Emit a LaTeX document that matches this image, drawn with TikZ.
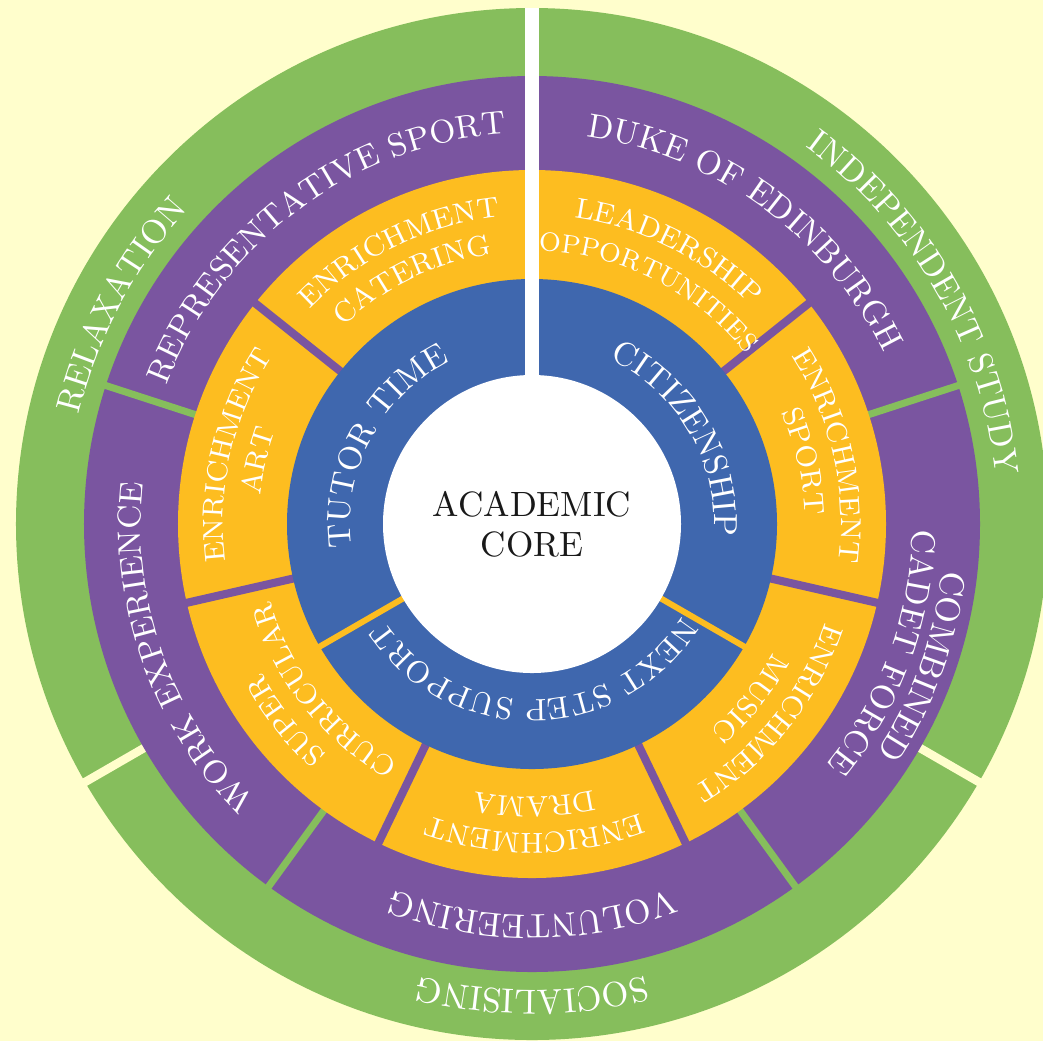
\documentclass[tikz,border=0pt]{standalone}
\usepackage{xcolor}
\usepackage{tikz}
\usetikzlibrary{decorations.text}

\definecolor{bgyellow}{RGB}{255,254,204}
\definecolor{ringgreen}{RGB}{134,190,92}
\definecolor{ringpurple}{RGB}{122,85,160}
\definecolor{ringorange}{RGB}{253,189,32}
\definecolor{ringblue}{RGB}{63,103,174}

\newcommand{\ringlabel}[4]{\path[decorate,decoration={text along path,text align=center,text={|\fontsize{#3}{#3}\selectfont\color{white}|#4}}] (#1+90:#2) arc[start angle=#1+90,end angle=#1-90,radius=#2];}

\begin{document}
\begin{tikzpicture}
    \useasboundingbox[fill=bgyellow] (-5.32,-5.17) rectangle (5.11,5.24);
    \fill[ringgreen] (0,0) circle (5.16);
    \draw[bgyellow,line width=2.4pt] (210:4.4) -- (210:5.3);
    \draw[bgyellow,line width=2.4pt] (330:4.4) -- (330:5.3);
    \fill[ringpurple] (0,0) circle (4.48);
    \draw[ringgreen,line width=2pt] (18:3.5) -- (18:4.5);
    \draw[ringgreen,line width=2pt] (162:3.5) -- (162:4.5);
    \draw[ringgreen,line width=2pt] (234:3.5) -- (234:4.5);
    \draw[ringgreen,line width=2pt] (306:3.5) -- (306:4.5);
    \fill[ringorange] (0,0) circle (3.54);
    \draw[ringpurple,line width=2.3pt] (38.57:2.4) -- (38.57:3.6);
    \draw[ringpurple,line width=2.3pt] (141.43:2.4) -- (141.43:3.6);
    \draw[ringpurple,line width=2.3pt] (192.86:2.4) -- (192.86:3.6);
    \draw[ringpurple,line width=2.3pt] (244.29:2.4) -- (244.29:3.6);
    \draw[ringpurple,line width=2.3pt] (295.71:2.4) -- (295.71:3.6);
    \draw[ringpurple,line width=2.3pt] (347.14:2.4) -- (347.14:3.6);
    \fill[ringblue] (0,0) circle (2.45);
    \draw[ringorange,line width=1.7pt] (210:1.4) -- (210:2.5);
    \draw[ringorange,line width=1.7pt] (330:1.4) -- (330:2.5);
    \fill[white] (0,0) circle (1.49);
    \draw[white,line width=4pt] (90:1.4) -- (90:5.16);

    \ringlabel{152}{4.66}{9.7}{RELAXATION}
    \ringlabel{30}{4.66}{9.7}{INDEPENDENT STUDY}
    \ringlabel{270}{4.66}{9.9}{SOCIALISING}

    \ringlabel{126.5}{3.91}{9.3}{REPRESENTATIVE SPORT}
    \ringlabel{54}{3.91}{9.6}{DUKE OF EDINBURGH}
    \ringlabel{-20}{4.13}{9.8}{COMBINED}
    \ringlabel{-20}{3.80}{9.6}{CADET FORCE}
    \ringlabel{270}{3.91}{9.7}{VOLUNTEERING}
    \ringlabel{199.5}{3.91}{9.3}{WORK EXPERIENCE}

    \ringlabel{116}{3.09}{8.2}{ENRICHMENT}
    \ringlabel{116}{2.73}{8.2}{CATERING}
    \ringlabel{63.5}{3.09}{8.2}{LEADERSHIP}
    \ringlabel{63.5}{2.73}{7.5}{OPPORTUNITIES}
    \ringlabel{13}{3.09}{8.2}{ENRICHMENT}
    \ringlabel{13}{2.73}{8.2}{SPORT}
    \ringlabel{-38.6}{3.09}{8.2}{ENRICHMENT}
    \ringlabel{-38.6}{2.73}{8.2}{MUSIC}
    \ringlabel{270.5}{3.09}{8.2}{ENRICHMENT}
    \ringlabel{270.5}{2.73}{8.2}{DRAMA}
    \ringlabel{218.6}{3.09}{8.2}{SUPER}
    \ringlabel{218.6}{2.73}{8.2}{CURRICULAR}
    \ringlabel{167}{3.09}{8.2}{ENRICHMENT}
    \ringlabel{167}{2.73}{8.2}{ART}

    \ringlabel{152}{1.82}{9.3}{TUTOR TIME}
    \ringlabel{30.5}{1.82}{9.5}{CITIZENSHIP}
    \ringlabel{271}{1.76}{8.8}{NEXT STEP SUPPORT}

    \node[align=center,font=\fontsize{10}{11.4}\selectfont,text=black!90] (core) at (0,0) {ACADEMIC\\CORE};
\end{tikzpicture}
\end{document}
